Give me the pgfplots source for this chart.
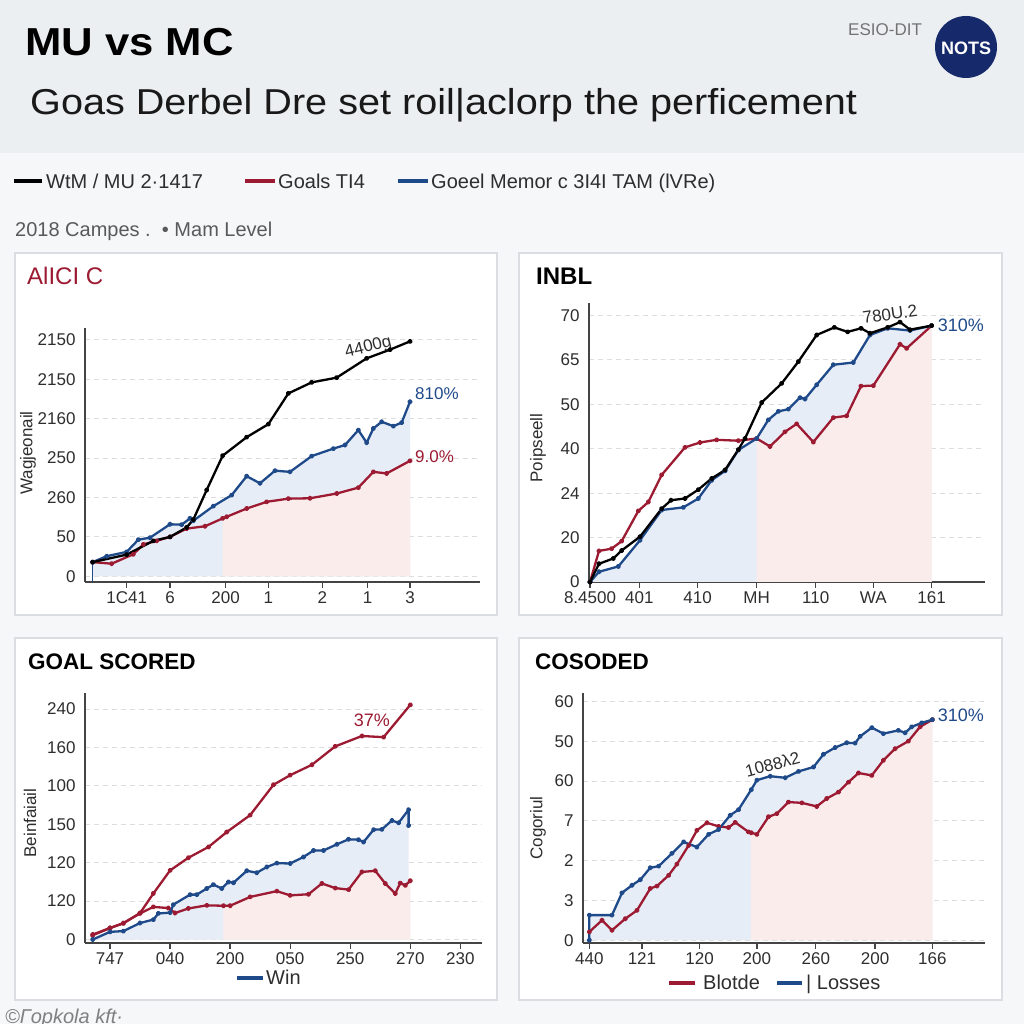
\documentclass[border=0pt]{standalone}
\usepackage{pgfplots}
\pgfplotsset{compat=1.18}
\usepackage{pgfplotstable}
\usepackage{fontspec}
\setmainfont{Liberation Sans}
\newfontfamily\widesub[FakeStretch=1.1]{Liberation Sans}
\newfontfamily\widetitle[FakeStretch=1.12]{Liberation Sans}

\definecolor{hdr}{HTML}{ECEFF2}
\definecolor{bodybg}{HTML}{F6F7F8}
\definecolor{mured}{HTML}{9C1B32}
\definecolor{mcblue}{HTML}{1F4A8A}
\definecolor{navy}{HTML}{15296B}
\definecolor{bfill}{HTML}{E7EDF7}
\definecolor{rfill}{HTML}{FBECEC}
\definecolor{boxline}{HTML}{DADEE3}
\definecolor{txt}{HTML}{2E2E2E}
\definecolor{axc}{HTML}{444444}
\definecolor{gridc}{HTML}{DDDDDD}

% ---------- Panel 1 ----------
\pgfplotstableread{
x y
278 0.36
380 0.55
460 0.90
510 1.00
560 1.24
580 1.44
620 2.19
668 3.06
740 3.53
805 3.86
865 4.64
935 4.92
1010 5.04
1100 5.53
1170 5.75
1230 5.96
}\pAk
\pgfplotstableread{
x y
278 0.36
320 0.51
380 0.62
415 0.93
450 0.98
510 1.32
545 1.31
570 1.47
580 1.41
640 1.78
695 2.06
740 2.54
780 2.36
825 2.68
870 2.65
935 3.05
1000 3.24
1035 3.33
1075 3.71
1100 3.39
1120 3.75
1145 3.92
1180 3.81
1205 3.90
1230 4.43
}\pAb
\pgfplotstableread{
x y
278 0.36
335 0.32
400 0.56
430 0.81
470 0.90
510 1.00
560 1.21
615 1.27
668 1.47
680 1.51
740 1.72
800 1.89
865 1.97
930 1.98
1010 2.10
1075 2.25
1120 2.65
1160 2.61
1230 2.93
}\pAr
% ---------- Panel 2 ----------
\pgfplotstableread{
x y
235 0
262 0.41
305 0.53
330 0.71
385 1.02
450 1.65
478 1.84
520 1.88
560 2.08
600 2.33
640 2.52
680 2.98
700 3.23
750 4.04
810 4.47
860 4.96
915 5.56
968 5.73
1008 5.63
1048 5.71
1075 5.60
1128 5.73
1165 5.85
1195 5.68
1260 5.77
}\pBk
\pgfplotstableread{
x y
235 0
262 0.23
320 0.35
385 0.94
450 1.62
515 1.68
560 1.88
600 2.29
640 2.50
680 2.97
735 3.23
770 3.65
800 3.84
830 3.89
865 4.15
880 4.12
915 4.44
965 4.89
1025 4.94
1075 5.56
1128 5.71
1195 5.66
1260 5.77
}\pBb
\pgfplotstableread{
x y
235 0
262 0.70
300 0.75
330 0.92
380 1.60
410 1.80
450 2.41
520 3.03
565 3.14
615 3.20
680 3.18
735 3.23
775 3.05
820 3.38
855 3.56
905 3.15
965 3.70
1005 3.74
1048 4.41
1085 4.42
1165 5.35
1185 5.26
1260 5.77
}\pBr
% ---------- Panel 3 ----------
\pgfplotstableread{
x y
278 0.13
330 0.30
370 0.42
420 0.69
460 1.20
510 1.80
565 2.13
625 2.41
680 2.80
750 3.24
820 4.03
870 4.28
935 4.55
1005 5.03
1085 5.30
1150 5.27
1230 6.11
}\pCu
\pgfplotstableread{
x y
278 0.00
330 0.20
370 0.22
420 0.43
460 0.52
475 0.68
510 0.70
520 0.91
570 1.17
590 1.17
620 1.33
640 1.43
665 1.33
685 1.50
700 1.48
740 1.79
770 1.74
800 1.89
830 1.99
870 1.98
910 2.15
940 2.32
970 2.32
1010 2.48
1045 2.61
1075 2.60
1090 2.54
1120 2.86
1145 2.87
1175 3.10
1195 3.04
1225 3.38
1225 2.97
}\pCb
\pgfplotstableread{
x y
278 0.11
330 0.30
370 0.43
420 0.68
460 0.85
505 0.82
525 0.69
565 0.81
620 0.89
670 0.88
690 0.88
750 1.11
830 1.26
870 1.15
925 1.18
965 1.46
1005 1.34
1045 1.30
1085 1.76
1125 1.79
1155 1.46
1185 1.20
1200 1.47
1215 1.41
1230 1.53
}\pCr
% ---------- Panel 4 ----------
\pgfplotstableread{
x y
232 0
232 0.63
300 0.63
330 1.19
360 1.38
385 1.52
415 1.82
440 1.86
480 2.18
515 2.47
555 2.34
590 2.66
620 2.78
655 3.14
680 3.28
718 3.78
735 4.02
775 4.12
820 4.08
860 4.24
905 4.35
935 4.67
970 4.84
1005 4.96
1030 4.95
1045 5.12
1080 5.34
1115 5.19
1160 5.27
1180 5.21
1200 5.36
1230 5.46
1262 5.54
}\pDb
\pgfplotstableread{
x y
232 0.21
270 0.50
300 0.25
340 0.54
375 0.75
415 1.30
435 1.36
470 1.63
495 1.91
530 2.38
555 2.76
585 2.95
620 2.86
650 2.83
670 2.96
710 2.72
718 2.70
735 2.66
770 3.10
795 3.18
830 3.47
870 3.45
915 3.36
945 3.56
980 3.72
1010 3.97
1040 4.20
1080 4.14
1115 4.52
1150 4.81
1190 5.00
1225 5.36
1262 5.54
}\pDr

\pgfplotsset{
  panel/.style={
    scale only axis, clip=false,
    axis x line*=bottom, axis y line*=left,
    axis line style={-, draw=axc, line width=1.6pt},
    ymajorgrids,
    major grid style={draw=gridc, dash pattern=on 5pt off 4pt, line width=0.9pt},
    ytick={0,1,2,3,4,5,6},
    ytick style={draw=none},
    xtick style={draw=axc, line width=1.3pt},
    major tick length=6pt, tick align=outside,
    tick label style={font=\fontsize{17}{17}\selectfont, text=txt},
    /pgf/number format/assume math mode=true,
  },
  ln/.style={line width=2.3pt, mark=*, mark size=1.5pt, line join=round},
}

\begin{document}
\begin{tikzpicture}[x=1pt,y=1pt]
\useasboundingbox (0,0) rectangle (1024,1024);
\fill[bodybg] (0,0) rectangle (1024,1024);
\fill[hdr] (0,871) rectangle (1024,1024);

% header
\node[anchor=base west, inner sep=0pt, font=\widetitle\bfseries\fontsize{39}{40}\selectfont] at (25,968) {MU vs MC};
\node[anchor=base west, inner sep=0pt, font=\widesub\fontsize{36}{40}\selectfont, text=black!90] at (30,909) {Goas Derbel Dre set roil|aclorp the perficement};
\node[anchor=base west, inner sep=0pt, font=\fontsize{17}{18}\selectfont, text=black!55] at (848,988) {ESIO-DIT};
\fill[navy] (966,977) circle (31);
\node[font=\bfseries\fontsize{18}{18}\selectfont, text=white] at (966,976) {NOTS};

% legend row
\draw[black, line width=4pt] (14,843) -- (42,843);
\node[anchor=base west, inner sep=0pt, font=\fontsize{20}{20}\selectfont, text=txt] at (46,835) {WtM / MU 2·1417};
\draw[mured, line width=4pt] (245,843) -- (275,843);
\node[anchor=base west, inner sep=0pt, font=\fontsize{20}{20}\selectfont, text=txt] at (278,835) {Goals TI4};
\draw[mcblue, line width=4pt] (398,843) -- (428,843);
\node[anchor=base west, inner sep=0pt, font=\fontsize{20}{20}\selectfont, text=txt] at (431,835) {Goeel Memor c 3I4I TAM (lVRe)};
\node[anchor=base west, inner sep=0pt, font=\fontsize{20}{20}\selectfont, text=black!65] at (15,787) {2018 Campes .\ \ • Mam Level};

% panel boxes
\foreach \a/\b/\c/\d in {15/409/497/771, 519/409/1002/771, 15/24/497/386, 519/24/1002/386}{
  \filldraw[fill=white, draw=boxline, line width=1.5pt] (\a,\b) rectangle (\c,\d);
}
\node[anchor=base west, inner sep=0pt, font=\fontsize{24}{24}\selectfont, text=mured] at (27,739) {AlICI C};
\node[anchor=base west, inner sep=0pt, font=\bfseries\fontsize{24}{24}\selectfont] at (536,739) {INBL};
\node[anchor=base west, inner sep=0pt, font=\bfseries\fontsize{22.5}{24}\selectfont] at (28,354) {GOAL SCORED};
\node[anchor=base west, inner sep=0pt, font=\bfseries\fontsize{22.5}{24}\selectfont] at (535,354) {COSODED};

% ===== Panel 1 =====
\begin{axis}[panel, at={(85pt,442pt)}, anchor=south west, width=395pt, height=254pt,
  xmin=255, xmax=1440, ymin=-0.144, ymax=6.30,
  yticklabels={0,50,260,250,2160,2150,2150},
  xtick={380,510,677,805,967,1103,1230},
  xticklabels={1C41,6,200,1,2,1,3}]
\addplot[draw=none, fill=bfill] table[x=x,y=y]{\pAb} \closedcycle;
\addplot[draw=none, fill=rfill, restrict x to domain=668:1230] table[x=x,y=y]{\pAr} \closedcycle;
\draw[mcblue, line width=1.5pt] (axis cs:278,0.36) -- (axis cs:278,-0.144);
\addplot[ln, mured] table[x=x,y=y]{\pAr};
\addplot[ln, mcblue] table[x=x,y=y]{\pAb};
\addplot[ln, black] table[x=x,y=y]{\pAk};
\node[rotate=14, font=\fontsize{17}{17}\selectfont, text=txt] at (axis cs:1105,5.80) {4400g};
\node[anchor=west, font=\fontsize{17}{17}\selectfont, text=mcblue] at (axis cs:1235,4.64) {810\%};
\node[anchor=west, font=\fontsize{17}{17}\selectfont, text=mured] at (axis cs:1235,3.03) {9.0\%};
\end{axis}
\node[rotate=90, font=\fontsize{17}{17}\selectfont, text=txt] at (28,571) {Wagjeonail};

% ===== Panel 2 =====
\begin{axis}[panel, at={(589pt,442pt)}, anchor=south west, width=396pt, height=279pt,
  xmin=232, xmax=1420, ymin=0, ymax=6.28,
  yticklabels={0,20,24,40,50,65,70},
  xtick={235,383,558,735,912,1085,1260},
  xticklabels={8.4500,401,410,MH,110,WA,161}]
\addplot[draw=none, fill=bfill] table[x=x,y=y]{\pBb} \closedcycle;
\addplot[draw=none, fill=rfill, restrict x to domain=735:1260] table[x=x,y=y]{\pBr} \closedcycle;
\addplot[ln, mured] table[x=x,y=y]{\pBr};
\addplot[ln, mcblue] table[x=x,y=y]{\pBb};
\addplot[ln, black] table[x=x,y=y]{\pBk};
\node[rotate=8, font=\fontsize{17}{17}\selectfont, text=txt] at (axis cs:1135,6.03) {780U.2};
\node[anchor=west, font=\fontsize{18}{18}\selectfont, text=mcblue] at (axis cs:1268,5.77) {310\%};
\end{axis}
\node[rotate=90, font=\fontsize{17}{17}\selectfont, text=txt] at (538,576) {Poipseell};

% ===== Panel 3 =====
\begin{axis}[panel, at={(85pt,81pt)}, anchor=south west, width=397pt, height=250pt,
  xmin=255, xmax=1445, ymin=-0.09, ymax=6.42,
  yticklabels={0,120,120,150,100,160,240},
  xtick={330,510,690,870,1050,1230,1380},
  xticklabels={747,040,200,050,250,270,230}]
\addplot[draw=none, fill=bfill] table[x=x,y=y]{\pCb} \closedcycle;
\addplot[draw=none, fill=rfill, restrict x to domain=670:1230] table[x=x,y=y]{\pCr} \closedcycle;
\addplot[ln, mured] table[x=x,y=y]{\pCu};
\addplot[ln, mured] table[x=x,y=y]{\pCr};
\addplot[ln, mcblue] table[x=x,y=y]{\pCb};
\node[font=\fontsize{18}{18}\selectfont, text=mured] at (axis cs:1115,5.72) {37\%};
\end{axis}
\node[rotate=90, font=\fontsize{17}{17}\selectfont, text=txt] at (30,201) {Beinfaiail};
\draw[mcblue, line width=3.5pt] (237,46) -- (263,46);
\node[anchor=base west, inner sep=0pt, font=\fontsize{20}{20}\selectfont, text=txt] at (266,39) {Win};

% ===== Panel 4 =====
\begin{axis}[panel, at={(583pt,81pt)}, anchor=south west, width=402pt, height=250pt,
  xmin=213, xmax=1420, ymin=-0.07, ymax=6.21,
  yticklabels={0,3,2,7,60,50,60},
  xtick={232,390,563,735,912,1090,1262},
  xticklabels={440,121,120,200,260,200,166}]
\addplot[draw=none, fill=bfill] table[x=x,y=y]{\pDb} \closedcycle;
\addplot[draw=none, fill=rfill, restrict x to domain=718:1262] table[x=x,y=y]{\pDr} \closedcycle;
\addplot[ln, mured] table[x=x,y=y]{\pDr};
\addplot[ln, mcblue] table[x=x,y=y]{\pDb};
\node[rotate=15, font=\fontsize{17}{17}\selectfont, text=txt] at (axis cs:782,4.42) {1088λ2};
\node[anchor=west, font=\fontsize{18}{18}\selectfont, text=mcblue] at (axis cs:1268,5.65) {310\%};
\end{axis}
\node[rotate=90, font=\fontsize{17}{17}\selectfont, text=txt] at (538,196) {Cogoriul};
\draw[mured, line width=3.5pt] (669,41) -- (695,41);
\node[anchor=base west, inner sep=0pt, font=\fontsize{20}{20}\selectfont, text=txt] at (703,34) {Blotde};
\draw[mcblue, line width=3.5pt] (777,41) -- (802,41);
\node[anchor=base west, inner sep=0pt, font=\fontsize{20}{20}\selectfont, text=txt] at (806,34) {| Losses};

% footer
\node[anchor=base west, inner sep=0pt, font=\itshape\fontsize{20}{20}\selectfont, text=black!50] at (5,1) {©Гopkola kft·};
\end{tikzpicture}
\end{document}
